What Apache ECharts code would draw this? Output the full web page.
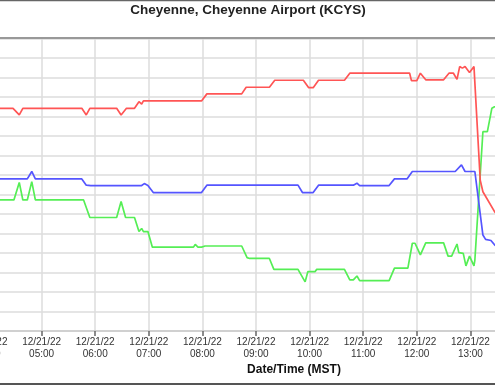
<!DOCTYPE html>
<html>
<head>
<meta charset="utf-8">
<script src="https://cdn.jsdelivr.net/npm/echarts@6/dist/echarts.min.js"></script>
<style>
html,body{margin:0;padding:0;background:#fff;}
#chart{width:495px;height:385px;}
</style>
</head>
<body>
<div id="chart"></div>
<script>
const titleText = 'Cheyenne, Cheyenne Airport (KCYS)';
const xAxisName = 'Date/Time (MST)';
const dateLabel = '12/21/22';
const hourTicks = ['04:00','05:00','06:00','07:00','08:00','09:00','10:00','11:00','12:00','13:00','14:00'];

const redTimes = ['04:00','04:28','04:35','04:39','05:45','05:50','05:54','06:24','06:29','06:35','06:44','06:49','06:52','06:54','07:59','08:05','08:44','08:49','08:51','08:54','09:15','09:21','09:53','09:59','10:04','10:10','10:39','10:45','11:52','11:54','12:00','12:04','12:10','12:30','12:36','12:41','12:45','12:48','12:51','12:54','12:59','13:04','13:05','13:11','13:14','13:27','13:35'];
const redValues = [37.1,37.1,35.4,37.1,37.1,35.4,37.1,37.1,35.4,37.1,37.1,38.8,38.2,39.0,39.0,40.8,40.8,42.5,42.1,42.5,42.5,44.3,44.3,42.4,42.4,44.3,44.3,46.1,46.1,44.2,44.2,46.1,44.4,44.4,46.1,46.1,44.5,47.8,47.4,47.8,46.3,47.8,47.8,18.7,15.7,10.6,8.4];

const blueTimes = ['04:00','04:44','04:49','04:53','05:45','05:50','05:52','05:55','06:52','06:55','06:59','07:05','07:50','07:52','07:55','07:59','08:05','09:47','09:52','10:04','10:10','10:49','10:53','10:56','11:29','11:35','11:49','11:55','12:43','12:50','12:54','13:05','13:14','13:17','13:23','13:27','13:35'];
const blueValues = [19.0,19.0,20.9,19.0,19.0,17.4,17.9,17.3,17.3,17.8,17.3,15.5,15.5,16.0,15.5,15.5,17.4,17.4,15.5,15.5,17.4,17.4,17.9,17.3,17.3,19.0,19.0,20.9,20.9,22.6,20.9,20.9,4.6,3.5,3.2,2.1,0.5];

const greenTimes = ['04:00','04:29','04:35','04:39','04:44','04:49','04:53','05:47','05:54','06:24','06:29','06:34','06:44','06:49','06:52','06:54','06:59','07:04','07:50','07:52','07:55','07:59','08:03','08:44','08:50','08:51','08:53','09:15','09:20','09:47','09:55','09:58','10:06','10:08','10:39','10:45','10:49','10:53','10:56','11:29','11:35','11:50','11:55','11:58','12:04','12:10','12:30','12:35','12:39','12:45','12:47','12:52','12:55','12:59','13:04','13:05','13:14','13:19','13:24','13:27','13:35'];
const greenValues = [13.6,13.6,18.1,13.6,13.6,18.3,13.6,13.6,9.1,9.1,13.2,9.1,9.1,5.5,6.3,5.5,5.5,1.5,1.5,2.2,1.5,1.5,1.8,1.8,-1.2,-0.9,-1.4,-1.4,-4.2,-4.2,-7.4,-4.8,-4.8,-4.2,-4.2,-6.9,-6.9,-5.9,-7.1,-7.1,-3.9,-3.9,2.5,2.5,-0.5,2.6,2.6,-0.8,-0.8,2.3,0.1,-0.1,-3.3,-0.8,-3.3,-1.8,31.1,31.1,37.1,37.5,38.0];

function toMin(t){ const p = t.split(':'); return (+p[0])*60 + (+p[1]); }
function pairs(times, vals){ return times.map((t,i)=>[toMin(t), vals[i]]); }
function pad(n){ return (n<10?'0':'')+n; }

const chart = echarts.init(document.getElementById('chart'), null, {renderer:'canvas'});
const gridCol = '#dcdcdc';
const lastLabelHour = 13;
const option = {
  animation: false,
  backgroundColor: '#ffffff',
  grid: { left: -12, right: -29, top: 38.5, bottom: 54, containLabel: false, outerBoundsMode: 'none', show: false },
  xAxis: {
    type: 'value',
    min: toMin(hourTicks[0]),
    max: toMin(hourTicks[hourTicks.length-1]),
    interval: 60,
    axisLine: { show: true, onZero: false, lineStyle: { color: '#c8c8c8', width: 1.5 } },
    axisTick: { show: true, length: 5, lineStyle: { color: '#666', width: 1.5 } },
    splitLine: { show: true, lineStyle: { color: gridCol, width: 1.5 } },
    axisLabel: {
      show: true, margin: 5, fontSize: 10, lineHeight: 12, color: '#333',
      fontFamily: 'Liberation Sans, Arial, sans-serif',
      showMinLabel: true, showMaxLabel: false,
      formatter: function(v){ const h = Math.round(v/60); if (h > lastLabelHour) return ''; return dateLabel + '\n' + pad(h) + ':00'; }
    }
  },
  yAxis: {
    type: 'value', min: -20, max: 55, interval: 5,
    axisLine: { show: false }, axisTick: { show: false }, axisLabel: { show: false },
    splitLine: { show: true, lineStyle: { color: gridCol, width: 1.5 } }
  },
  graphic: [
    { type: 'line', shape: { x1: 0, y1: 0.5, x2: 495, y2: 0.5 }, style: { stroke: '#666', lineWidth: 1.5 }, z: 100 },
    { type: 'line', shape: { x1: 0, y1: 38, x2: 495, y2: 38 }, style: { stroke: '#999', lineWidth: 2 }, z: 100 },
    { type: 'line', shape: { x1: 0, y1: 384, x2: 495, y2: 384 }, style: { stroke: '#555', lineWidth: 2 }, z: 100 },
    { type: 'text', x: 248, y: 10, style: { text: titleText, fontSize: 13.5, fontWeight: 'bold', fill: '#222', textAlign: 'center', textVerticalAlign: 'middle', fontFamily: 'Liberation Sans, Arial, sans-serif' }, z: 100 },
    { type: 'text', x: 294, y: 370, style: { text: xAxisName, fontSize: 12, fontWeight: 'bold', fill: '#111', textAlign: 'center', textVerticalAlign: 'middle', fontFamily: 'Liberation Sans, Arial, sans-serif' }, z: 100 }
  ],
  series: [
    { type: 'line', data: pairs(greenTimes, greenValues), showSymbol: false, lineStyle: { color: '#55ee55', width: 1.7 }, itemStyle: { color: '#55ee55' } },
    { type: 'line', data: pairs(blueTimes, blueValues), showSymbol: false, lineStyle: { color: '#5555ff', width: 1.7 }, itemStyle: { color: '#5555ff' } },
    { type: 'line', data: pairs(redTimes, redValues), showSymbol: false, lineStyle: { color: '#ff5555', width: 1.7 }, itemStyle: { color: '#ff5555' } }
  ]
};
chart.setOption(option);
</script>
</body>
</html>
